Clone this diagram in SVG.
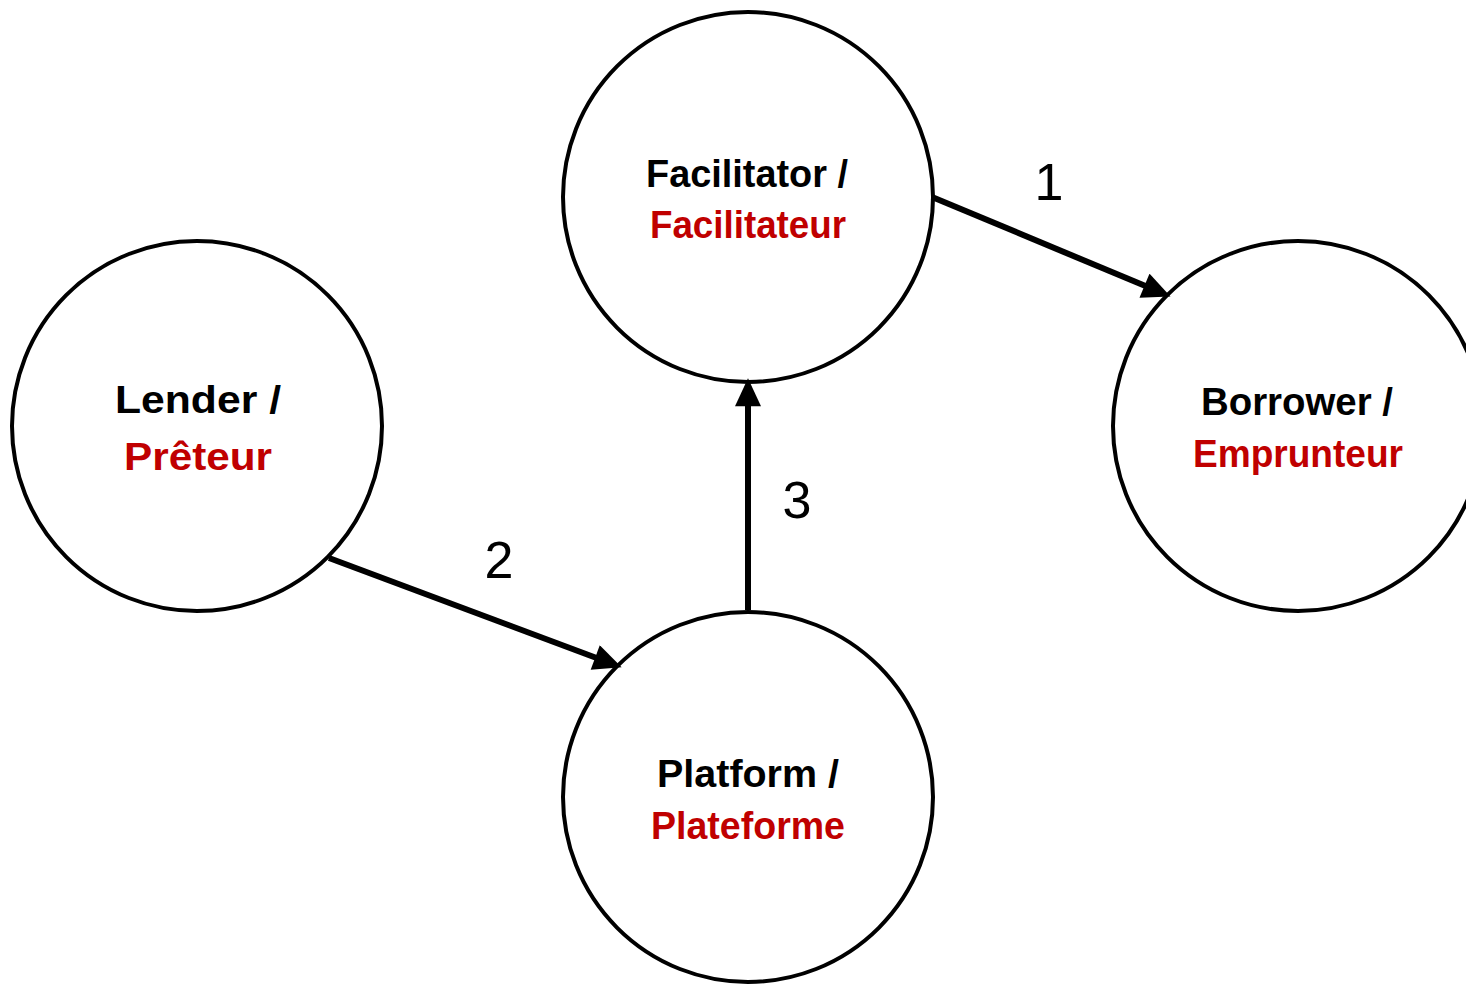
<svg xmlns="http://www.w3.org/2000/svg" width="1466" height="984" viewBox="0 0 1466 984">
<defs>
<style>
.node{fill:#fff;stroke:#000;stroke-width:4}
.t{font-family:"Liberation Sans",Arial,sans-serif;font-weight:bold;font-size:38px;text-anchor:middle}
.en{fill:#000}
.fr{fill:#C00000}
.edge{stroke:#000;stroke-width:6;fill:none}
.num{font-family:"Liberation Sans",Arial,sans-serif;font-size:52px;fill:#000;text-anchor:middle}
</style>
<marker id="ah" markerUnits="userSpaceOnUse" markerWidth="30" markerHeight="26" viewBox="0 0 26 24" refX="4" refY="12" orient="auto">
<path d="M0,0 L26,12 L0,24 Z" fill="#000"/>
</marker>
</defs>
<rect width="1466" height="984" fill="#fff"/>
<g id="facilitator">
<circle class="node" cx="748" cy="197" r="185"/>
<text class="t en" x="747" y="187" textLength="202" lengthAdjust="spacingAndGlyphs">Facilitator /</text>
<text class="t fr" x="748" y="238" textLength="196" lengthAdjust="spacingAndGlyphs">Facilitateur</text>
</g>
<g id="lender">
<circle class="node" cx="197" cy="426" r="185"/>
<text class="t en" x="198" y="413" textLength="166" lengthAdjust="spacingAndGlyphs">Lender /</text>
<text class="t fr" x="198" y="470" textLength="148" lengthAdjust="spacingAndGlyphs">Prêteur</text>
</g>
<g id="borrower">
<circle class="node" cx="1298" cy="426" r="185"/>
<text class="t en" x="1297" y="415" textLength="192" lengthAdjust="spacingAndGlyphs">Borrower /</text>
<text class="t fr" x="1298" y="467" textLength="210" lengthAdjust="spacingAndGlyphs">Emprunteur</text>
</g>
<g id="platform">
<circle class="node" cx="748" cy="797" r="185"/>
<text class="t en" x="748" y="787" textLength="182" lengthAdjust="spacingAndGlyphs">Platform /</text>
<text class="t fr" x="748" y="839" textLength="194" lengthAdjust="spacingAndGlyphs">Plateforme</text>
</g>
<g id="connectors">
<line class="edge" x1="932" y1="197" x2="1148.5" y2="287.3" marker-end="url(#ah)"/>
<line class="edge" x1="329" y1="558" x2="599.3" y2="659" marker-end="url(#ah)"/>
<line class="edge" x1="748" y1="610" x2="748" y2="402" marker-end="url(#ah)"/>
<text class="num" x="1049" y="200">1</text>
<text class="num" x="499" y="578">2</text>
<text class="num" x="797" y="518">3</text>
</g>
</svg>
